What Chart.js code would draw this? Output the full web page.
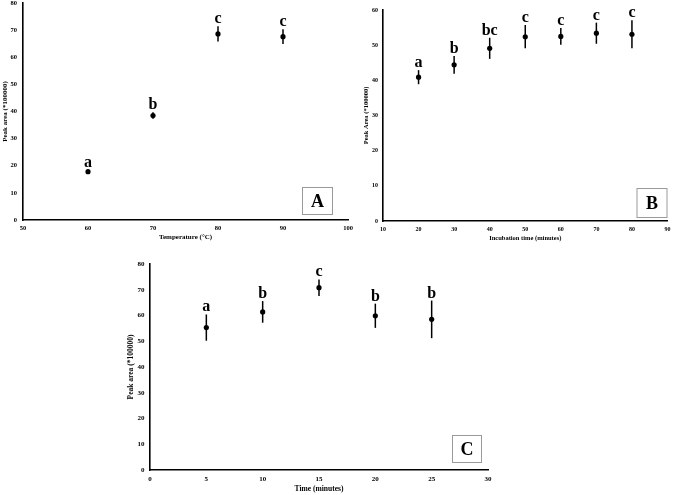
<!DOCTYPE html>
<html><head><meta charset="utf-8">
<script src="https://cdn.jsdelivr.net/npm/chart.js@4.4.0/dist/chart.umd.min.js"></script>
<style>
html,body{margin:0;padding:0;background:#fff;width:676px;height:495px;overflow:hidden;position:relative}
canvas{position:absolute;display:block}
</style></head><body>
<canvas id="ca" width="360" height="255" style="left:0;top:-10px"></canvas>
<canvas id="cb" width="321" height="255" style="left:355px;top:-10px"></canvas>
<canvas id="cc" width="380" height="245" style="left:120px;top:250px"></canvas>
<script>
// Panel A
const tempA = [60, 70, 80, 90];
const meanA = [17.8, 38.5, 68.6, 67.6];
const errA = [0.5, 1.2, 2.8, 2.7];
const lettersA = ['a', 'b', 'c', 'c'];
// Panel B
const timeB = [20, 30, 40, 50, 60, 70, 80];
const meanB = [40.9, 44.4, 49.1, 52.4, 52.5, 53.4, 53.1];
const errB = [2.0, 2.5, 3.0, 3.3, 2.4, 3.0, 4.0];
const lettersB = ['a', 'b', 'bc', 'c', 'c', 'c', 'c'];
// Panel C
const timeC = [5, 10, 15, 20, 25];
const meanC = [55.3, 61.4, 70.8, 59.9, 58.5];
const errC = [5.1, 4.2, 3.2, 4.7, 7.3];
const lettersC = ['a', 'b', 'c', 'b', 'b'];

const SERIF = "'Liberation Serif','Times New Roman',serif";

function annot(xs, ms, es, letters, panel, box) {
  return {
    id: 'annot',
    beforeDatasetsDraw(chart) {
      const {ctx, scales: {x, y}} = chart;
      ctx.save();
      ctx.strokeStyle = '#000';
      ctx.lineWidth = 1.5;
      for (let i = 0; i < xs.length; i++) {
        const px = x.getPixelForValue(xs[i]);
        ctx.beginPath();
        ctx.moveTo(px, y.getPixelForValue(ms[i] + es[i]));
        ctx.lineTo(px, y.getPixelForValue(ms[i] - es[i]));
        ctx.stroke();
      }
      ctx.restore();
    },
    afterDatasetsDraw(chart) {
      const {ctx, scales: {x, y}, chartArea: ca} = chart;
      ctx.save();
      ctx.fillStyle = '#000';
      ctx.font = "bold 16px " + SERIF;
      ctx.textAlign = 'center';
      ctx.textBaseline = 'alphabetic';
      for (let i = 0; i < xs.length; i++) {
        const px = x.getPixelForValue(xs[i]);
        const top = y.getPixelForValue(ms[i] + es[i]);
        ctx.fillText(letters[i], px, top - 3);
      }
      const bx = ca.right - box.r - box.w, by = ca.bottom - box.b - box.h;
      ctx.fillStyle = '#fff';
      ctx.fillRect(bx, by, box.w, box.h);
      ctx.strokeStyle = '#9a9a9a';
      ctx.lineWidth = 1;
      ctx.strokeRect(bx + 0.5, by + 0.5, box.w, box.h);
      ctx.fillStyle = '#000';
      ctx.font = "bold 18px " + SERIF;
      ctx.textBaseline = 'middle';
      ctx.fillText(panel, bx + box.w / 2 + 0.5, by + box.h / 2 + 1.5);
      ctx.restore();
    }
  };
}

function makeChart(id, o) {
  const tickFont = {family: SERIF, size: o.tfs, weight: 'bold', lineHeight: 1};
  const titleFont = {family: SERIF, size: o.ttfs, weight: 'bold', lineHeight: 1};
  return new Chart(document.getElementById(id), {
    type: 'scatter',
    data: {
      datasets: [{
        data: o.xs.map((v, i) => ({x: v, y: o.ms[i]})),
        backgroundColor: '#000', borderColor: '#000',
        pointRadius: 2.6, pointHoverRadius: 2.6, borderWidth: 0
      }]
    },
    options: {
      responsive: false, animation: false, devicePixelRatio: 1,
      layout: {padding: o.pad},
      plugins: {legend: {display: false}, tooltip: {enabled: false}},
      scales: {
        x: {
          type: 'linear', min: o.xmin, max: o.xmax,
          ticks: {stepSize: o.xstep, font: tickFont, color: '#000', padding: 5.5, maxRotation: 0, autoSkip: false},
          grid: {display: false, drawTicks: false},
          border: {display: true, color: '#000', width: 1.6},
          title: {display: true, text: o.xtitle, font: titleFont, color: '#000', padding: {top: 0, bottom: o.xtpad}},
          afterFit: s => { s.height = o.xh; }
        },
        y: {
          type: 'linear', min: o.ymin, max: o.ymax,
          ticks: {stepSize: 10, font: tickFont, color: '#000', padding: o.ylpad},
          grid: {display: false, drawTicks: false},
          border: {display: true, color: '#000', width: 1.6},
          title: {display: true, text: o.ytitle, font: titleFont, color: '#000', padding: {top: o.ytpad, bottom: 0}},
          afterFit: s => { s.width = o.yw; }
        }
      }
    },
    plugins: [annot(o.xs, o.ms, o.es, o.letters, o.panel, o.box)]
  });
}

makeChart('ca', {
  xs: tempA, ms: meanA, es: errA, letters: lettersA, panel: 'A',
  xmin: 50, xmax: 100, xstep: 10, ymin: 0, ymax: 80,
  xtitle: 'Temperature (°C)', ytitle: 'Peak area (*100000)',
  pad: {top: 13, right: 12, left: 0, bottom: 0}, tfs: 6.5, ttfs: 7,
  xh: 25, yw: 23, xtpad: 4.5, ytpad: 1.5, ylpad: 6,
  box: {r: 16, b: 6, w: 30, h: 27}
});
makeChart('cb', {
  xs: timeB, ms: meanB, es: errB, letters: lettersB, panel: 'B',
  xmin: 10, xmax: 90, xstep: 10, ymin: 0, ymax: 60,
  xtitle: 'Incubation time (minutes)', ytitle: 'Peak Area (*100000)',
  pad: {top: 20, right: 5, left: 0, bottom: 0}, tfs: 6, ttfs: 6.5,
  xh: 24, yw: 28, xtpad: 3.5, ytpad: 8.5, ylpad: 5,
  box: {r: 1, b: 4, w: 30, h: 29}
});
makeChart('cc', {
  xs: timeC, ms: meanC, es: errC, letters: lettersC, panel: 'C',
  xmin: 0, xmax: 30, xstep: 5, ymin: 0, ymax: 80,
  xtitle: 'Time (minutes)', ytitle: 'Peak area (*100000)',
  pad: {top: 14, right: 12, left: 0, bottom: 0}, tfs: 7, ttfs: 7.5,
  xh: 25, yw: 30, xtpad: 2.5, ytpad: 7, ylpad: 5.5,
  box: {r: 7, b: 8, w: 29, h: 27}
});
</script>
</body></html>
